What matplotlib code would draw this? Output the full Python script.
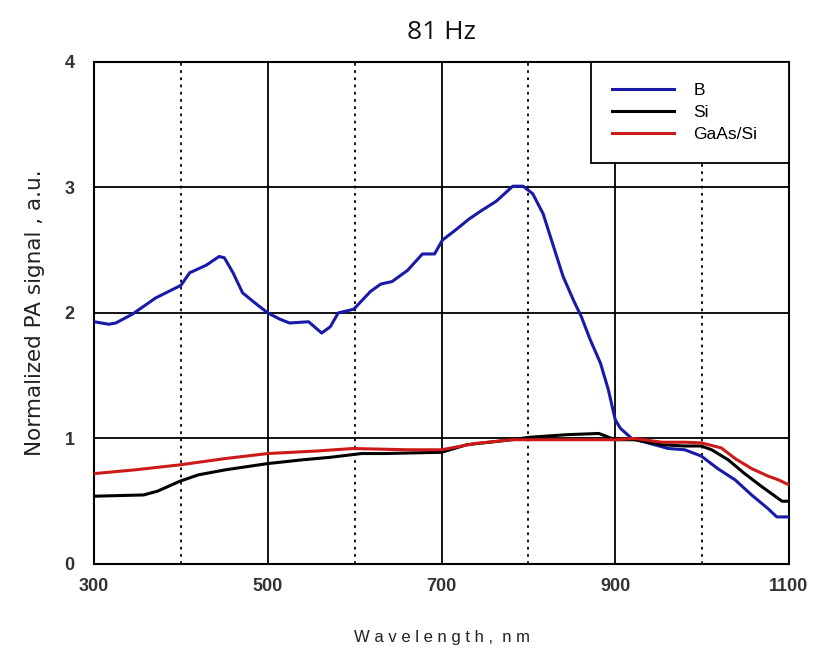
import matplotlib
matplotlib.use("Agg")
import matplotlib.pyplot as plt
import numpy as np

# B sample
b_wl = [300, 317, 325, 344, 371, 400, 410, 429, 444, 450, 460, 471, 487, 500, 514, 525, 547, 562,
        572, 581, 599, 618, 630, 643, 661, 678, 692, 701, 716, 732, 747, 763, 782, 794, 805, 817,
        828, 840, 852, 861, 871, 883, 892, 900, 906, 919, 940, 961, 980, 999, 1018, 1038, 1057,
        1076, 1086, 1100]
b_val = [1.93, 1.91, 1.92, 1.99, 2.12, 2.22, 2.32, 2.38, 2.45, 2.44, 2.32, 2.16, 2.07, 2.00, 1.95,
         1.92, 1.93, 1.84, 1.89, 2.00, 2.03, 2.17, 2.23, 2.25, 2.34, 2.47, 2.47, 2.58, 2.66, 2.75,
         2.82, 2.89, 3.01, 3.01, 2.95, 2.79, 2.55, 2.29, 2.10, 1.97, 1.79, 1.60, 1.39, 1.15, 1.08,
         1.00, 0.96, 0.92, 0.91, 0.86, 0.76, 0.67, 0.55, 0.44, 0.375, 0.375]

# Si reference
si_wl = [300, 357, 373, 399, 420, 451, 500, 540, 572, 608, 635, 700, 729, 781, 802, 844, 881,
         900, 922, 954, 980, 999, 1011, 1030, 1049, 1068, 1084, 1092, 1100]
si_val = [0.54, 0.55, 0.58, 0.66, 0.71, 0.75, 0.80, 0.83, 0.85, 0.88, 0.88, 0.89, 0.95, 0.99,
          1.01, 1.03, 1.04, 0.99, 0.99, 0.95, 0.94, 0.94, 0.91, 0.83, 0.72, 0.62, 0.54, 0.50, 0.50]

# GaAs/Si
ga_wl = [300, 347, 399, 451, 500, 556, 598, 661, 700, 739, 781, 844, 900, 922, 954, 980, 999,
         1022, 1038, 1057, 1076, 1088, 1100]
ga_val = [0.72, 0.75, 0.79, 0.84, 0.88, 0.90, 0.92, 0.91, 0.91, 0.96, 0.99, 0.99, 0.99, 1.00,
          0.97, 0.97, 0.965, 0.925, 0.84, 0.76, 0.70, 0.67, 0.63]

x_major = [300, 500, 700, 900, 1100]
x_minor = [400, 600, 800, 1000]
y_ticks = [0, 1, 2, 3, 4]

plt.rcParams['font.family'] = ['Liberation Sans', 'DejaVu Sans']

fig = plt.figure(figsize=(8.18, 6.52), dpi=100)
ax = fig.add_axes([0.115, 0.135, 0.8495, 0.77])

ax.plot(b_wl, b_val, color='#1a1aa8', lw=2.2, label='B', zorder=3)
ax.plot(si_wl, si_val, color='#000000', lw=2.2, label='Si', zorder=3)
ax.plot(ga_wl, ga_val, color='#cc1a1a', lw=2.2, label='GaAs/Si', zorder=4)

ax.set_xlim(300, 1100)
ax.set_ylim(0, 4)
ax.set_xticks(x_major)
ax.set_xticks(x_minor, minor=True)
ax.set_yticks(y_ticks)
ax.tick_params(which='both', length=0, labelsize=13, labelcolor='#333333')
ax.tick_params(axis='x', pad=10)
ax.tick_params(axis='y', pad=14)
for lab in ax.get_xticklabels() + ax.get_yticklabels():
    lab.set_fontweight('bold')

ax.grid(which='major', color='black', lw=1.3, ls='-')
ax.grid(which='minor', axis='x', color='black', lw=1.3, ls=(0, (1.5, 2.5)))
ax.set_axisbelow(True)
for s in ax.spines.values():
    s.set_linewidth(1.5)

ax.set_xlabel('W a v e l e n g t h ,  n m', fontsize=12, color='#222222', labelpad=25)
ax.set_ylabel('Normalized PA signal , a.u.', fontsize=15.5, color='#222222', labelpad=14,
              family=['DejaVu Sans'])
fig.text(0.54, 0.95, '81 Hz', ha='center', va='center', fontsize=19,
         family=['Open Sans', 'DejaVu Sans'], color='#111111')

x0 = (591 - 94) / 695.0
leg = ax.legend(loc='upper right', bbox_to_anchor=(x0, 0.0, 1.0 - x0, 1.0), mode='expand',
                fontsize=12.5, frameon=True, fancybox=False, edgecolor='black', framealpha=1,
                borderaxespad=0, handlelength=3.6, labelspacing=0.4, borderpad=1.2,
                handletextpad=1.1)
leg.get_frame().set_linewidth(1.3)
leg.set_zorder(5)

fig.savefig('out.png', dpi=100)
